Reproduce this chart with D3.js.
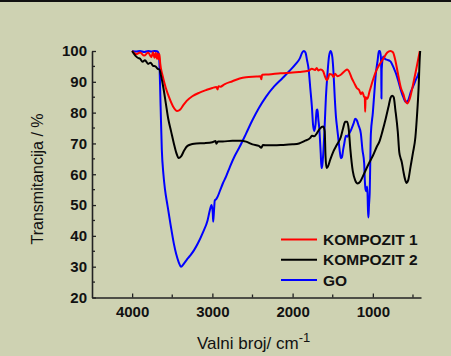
<!DOCTYPE html>
<html>
<head>
<meta charset="utf-8">
<script src="https://cdn.jsdelivr.net/npm/d3@7"></script>
<style>
  html, body { margin: 0; padding: 0; background: #ced2b2; }
  svg { display: block; }
  text { font-family: Arial, "Liberation Sans", sans-serif; }
</style>
</head>
<body>
<svg id="chart" width="451" height="356"></svg>
<script>
// KOMPOZIT 1
const k1Wn = [4000,3950,3900,3850,3800,3760,3740,3720,3705,3690,3680,3670,3660,3650,3620,3580,3540,3490,3440,3400,3360,3320,3250,3160,3080,3000,2950,2935,2925,2900,2850,2750,2660,2580,2450,2400,2390,2380,2300,2150,2000,1920,1800,1760,1720,1700,1680,1650,1620,1600,1575,1560,1540,1510,1490,1470,1440,1400,1350,1320,1300,1260,1230,1200,1170,1150,1130,1110,1100,1096,1090,1070,1040,1000,960,920,870,820,780,750,720,690,650,620,590,570,540,500,460,415];
const k1T  = [100,99,99.5,98.5,99.5,98,99.6,97.8,99.4,97.5,99.2,97.3,99,96,92,88,85,82,80.5,81,82.5,83.8,85.3,86.5,87.3,88,88.3,87.5,88.6,88.4,89.2,90.2,91.1,91.5,91.7,91.8,90.8,92.3,92.4,92.8,93,93.2,93.6,94.2,93.8,94.5,93.7,94,93.5,92,90.5,91,92.5,92.3,91.6,92.6,91.8,92.3,93.5,94,93.5,91,89.5,88,87.3,86,86.6,85.2,84.8,80.3,85,84.5,87,90.5,93.5,95.5,97.5,99.5,100,99.6,97,93,88,86,83.5,83,84.5,89,94,100];

// KOMPOZIT 2
const k2Wn = [4000,3960,3930,3900,3870,3840,3800,3770,3740,3710,3680,3660,3640,3610,3580,3550,3515,3480,3450,3420,3390,3350,3310,3250,3200,3100,3000,2960,2950,2930,2870,2750,2640,2580,2500,2420,2390,2370,2300,2150,2000,1920,1850,1780,1760,1730,1700,1660,1620,1600,1590,1577,1560,1530,1490,1450,1400,1370,1345,1320,1300,1280,1250,1220,1190,1160,1130,1090,1050,1000,950,920,880,840,800,780,760,740,720,690,670,655,640,620,600,580,560,530,500,470,450,430,415,410];
const k2T  = [100,98.5,97.8,97.5,96.5,97,95.8,96.2,95.2,95,94.2,94,92,88,83,78,74,70,67,65.3,65.8,67.8,69.2,69.8,70,70.1,70.4,70.8,69.9,70.6,70.6,70.9,70.9,70.6,69.7,69.2,68.6,69.5,69.4,69.5,69.7,70,70.8,71.8,72.5,72.3,73.2,74.8,75.5,74,66,62,62.5,64.8,67.5,69.5,72,75,77,77,74.5,68,61,58,57,57.5,59,61.3,63.5,66,69,70.5,74,78,82.5,84.8,85.5,85,81,74,67,65.3,64,61,58.5,57.2,58,62.5,67,72,79,88,98,100];

// GO
const goWn = [4000,3950,3900,3850,3800,3760,3720,3690,3670,3660,3645,3630,3610,3590,3560,3520,3480,3450,3420,3390,3360,3320,3280,3230,3180,3120,3060,3030,3010,2995,2990,2980,2970,2950,2930,2900,2870,2830,2780,2720,2660,2580,2500,2420,2330,2230,2130,2040,1960,1910,1880,1860,1840,1820,1800,1780,1760,1745,1730,1715,1700,1690,1680,1668,1650,1640,1630,1615,1600,1585,1565,1545,1525,1505,1490,1475,1460,1445,1428,1410,1398,1385,1370,1356,1336,1316,1300,1270,1240,1220,1200,1180,1150,1130,1108,1100,1090,1080,1070,1060,1055,1048,1040,1025,1000,980,962,940,925,912,900,895,893,890,871,850,818,790,776,740,713,680,651,620,589,560,526,490,457,440,430];
const goT  = [100,99.8,100,99.7,100,99.8,100,99.9,99.2,96,82,68,60,55,50,43.5,37.5,34,31.5,30,30.8,32.2,33.5,35.3,37.6,41,45,48.5,50,47.5,44.6,48,51.5,52,53,55,57,59.2,62.5,66,68.9,73.2,77.6,81.5,85.2,88.5,91.1,93.5,95.8,97.6,99.5,100,99.5,97,94,88,82,76,74,76,80.8,81,78,75,67,62,63,68,76,85,92.8,98.5,100,98,92.8,85,78.7,75,71.1,67,65.2,65.5,68,70,72.5,72.2,73,74.5,76.5,78,77.5,76,73.3,68,63.5,58,55,54.5,56,48,46,50,53.5,73,80,87,92.8,97,100,100,98,93,84.6,94,98.2,97.5,97.1,96.8,96.5,94.5,92.8,90,87.3,85,83.5,84,86.8,89,91.1,92,93];

const seriesNames = ['KOMPOZIT 1', 'KOMPOZIT 2', 'GO'];
const seriesColors = ['#ff0000', '#000000', '#0000ff'];
const xTicks = [4000, 3000, 2000, 1000];
const xMinor = [3500, 2500, 1500, 500];
const yTicks = [20, 30, 40, 50, 60, 70, 80, 90, 100];
const yMinor = [25, 35, 45, 55, 65, 75, 85, 95];

const svg = d3.select('#chart');
const margin = {top: 51, left: 92};
const width = 329, height = 246.5;

// thin dark band at the very top
svg.append('rect').attr('x', 0).attr('y', 0).attr('width', 451).attr('height', 2).attr('fill', '#111');

const x = d3.scaleLinear().domain([4500, 400]).range([0, width]);
const y = d3.scaleLinear().domain([20, 100]).range([height, 0]);

const g = svg.append('g').attr('transform', 'translate(' + margin.left + ',' + margin.top + ')');

const toPts = (wn, t) => wn.map((w, i) => [w, Math.min(100, t[i])]);
const series = [toPts(k1Wn, k1T), toPts(k2Wn, k2T), toPts(goWn, goT)];

const line = d3.line()
  .x(d => x(d[0]))
  .y(d => y(d[1]))
  .curve(d3.curveMonotoneX);

// draw GO first, then K1, then K2 on top
[2, 0, 1].forEach(i => {
  g.append('path')
    .datum(series[i])
    .attr('fill', 'none')
    .attr('stroke', seriesColors[i])
    .attr('stroke-width', 2)
    .attr('stroke-linejoin', 'round')
    .attr('d', line);
});

// axes with inward ticks
const axisColor = '#222';
const xAxis = g.append('g').attr('transform', 'translate(0,' + height + ')')
  .call(d3.axisBottom(x).tickValues(xTicks).tickSizeInner(-4).tickSizeOuter(0).tickPadding(8).tickFormat(d3.format('d')));
xAxis.append('g').selectAll('line').data(xMinor).join('line')
  .attr('x1', d => x(d)).attr('x2', d => x(d)).attr('y1', 0).attr('y2', -3)
  .attr('stroke', axisColor).attr('stroke-width', 1.3);

const yAxis = g.append('g')
  .call(d3.axisLeft(y).tickValues(yTicks).tickSizeInner(-4).tickSizeOuter(0).tickPadding(8));
yAxis.append('g').selectAll('line').data(yMinor).join('line')
  .attr('y1', d => y(d)).attr('y2', d => y(d)).attr('x1', 0).attr('x2', 3)
  .attr('stroke', axisColor).attr('stroke-width', 1.3);

[xAxis, yAxis].forEach(a => {
  a.select('.domain').attr('stroke', axisColor).attr('stroke-width', 1.6);
  a.selectAll('.tick line').attr('stroke', axisColor).attr('stroke-width', 1.3);
  a.selectAll('.tick text')
    .attr('fill', '#111')
    .style('font-family', 'Arial, "Liberation Sans", sans-serif')
    .style('font-size', '15px')
    .style('font-weight', 'bold');
});
xAxis.selectAll('.tick text').attr('dy', '0.71em').attr('y', 9);
yAxis.selectAll('.tick text').attr('x', -5);

// axis titles
svg.append('text')
  .attr('transform', 'translate(43,179) rotate(-90)')
  .attr('text-anchor', 'middle')
  .attr('fill', '#111')
  .style('font-size', '16px')
  .text('Transmitancija / %');

const xt = svg.append('text')
  .attr('x', 197).attr('y', 349)
  .attr('fill', '#111')
  .style('font-size', '17px');
xt.append('tspan').text('Valni broj/ cm');
xt.append('tspan').attr('dy', -7).style('font-size', '13px').text('-1');

// legend
const legend = svg.append('g');
seriesNames.forEach((name, i) => {
  const ly = 239.5 + i * 20.3;
  legend.append('line')
    .attr('x1', 281).attr('x2', 317).attr('y1', ly).attr('y2', ly)
    .attr('stroke', seriesColors[i]).attr('stroke-width', 2);
  legend.append('text')
    .attr('x', 323).attr('y', ly + 5.5)
    .attr('fill', '#111')
    .style('font-size', '15.5px')
    .style('font-weight', 'bold')
    .text(name);
});
</script>
</body>
</html>
